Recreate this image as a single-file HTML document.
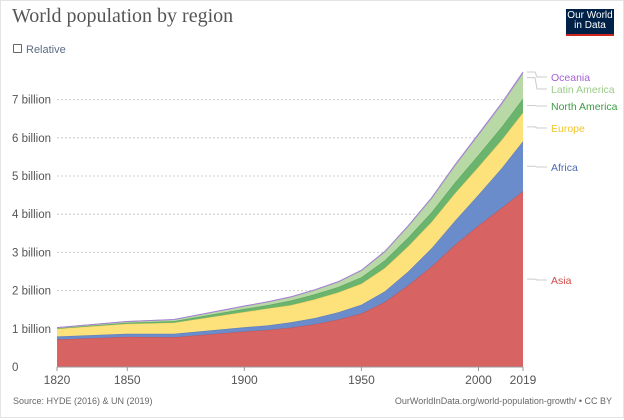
<!DOCTYPE html>
<html><head><meta charset="utf-8">
<style>
html,body{margin:0;padding:0;background:#fff;}
body{width:624px;height:420px;overflow:hidden;position:relative;font-family:"Liberation Sans",sans-serif;}
.frame{position:absolute;left:0;top:0;width:622px;height:416px;border:1px solid #e4e4e4;}
.title{position:absolute;left:12px;top:5px;font-family:"Liberation Serif",serif;font-size:20px;color:#555;}
.logo{position:absolute;left:566px;top:9px;width:48px;height:27px;background:#002147;color:#fff;font-size:10px;line-height:10px;text-align:center;padding-top:2px;box-sizing:border-box;border-bottom:2px solid #ce261e;}
.rel{position:absolute;left:13px;top:44px;font-size:11px;color:#5b6c84;}
.rel span.box{display:inline-block;width:7px;height:7px;border:1px solid #666;border-radius:1px;margin-right:4px;vertical-align:0px;}
.foot{position:absolute;top:396px;font-size:9px;color:#666;}
</style></head><body>
<div class="frame"></div>
<div class="title">World population by region</div>
<div class="logo">Our World<br>in Data</div>
<div class="rel"><span class="box"></span>Relative</div>
<svg id="chart" width="624" height="420" style="position:absolute;left:0;top:0"></svg>
<div class="foot" style="left:13px">Source: HYDE (2016) &amp; UN (2019)</div>
<div class="foot" style="right:12px">OurWorldInData.org/world-population-growth/ • CC BY</div>
<script>
const years=[1820,1850,1870,1900,1910,1920,1930,1940,1950,1960,1970,1980,1990,2000,2010,2019];
const asia=[0.72,0.79,0.78,0.93,0.97,1.03,1.12,1.24,1.40,1.70,2.14,2.63,3.20,3.70,4.17,4.60];
const africa=[0.08,0.08,0.09,0.11,0.12,0.14,0.16,0.19,0.23,0.28,0.36,0.48,0.63,0.81,1.04,1.31];
const europe=[0.20,0.26,0.29,0.40,0.44,0.45,0.49,0.52,0.55,0.61,0.66,0.69,0.72,0.73,0.74,0.75];
const northAmerica=[0.01,0.03,0.04,0.08,0.09,0.12,0.13,0.14,0.17,0.20,0.23,0.25,0.28,0.31,0.34,0.37];
const latinAmerica=[0.02,0.03,0.04,0.07,0.08,0.09,0.11,0.13,0.17,0.22,0.29,0.36,0.44,0.52,0.59,0.65];
const oceania=[0.002,0.002,0.003,0.006,0.008,0.009,0.01,0.011,0.013,0.016,0.02,0.023,0.027,0.031,0.037,0.042];
const yTicks=[0,1,2,3,4,5,6,7];
const yTickLabels=["0","1 billion","2 billion","3 billion","4 billion","5 billion","6 billion","7 billion"];
const xTicks=[1820,1850,1900,1950,2000,2019];
const seriesNames=["Asia","Africa","Europe","North America","Latin America","Oceania"];
const labelY=[280,167,128,106,89,77];

const svg=document.getElementById('chart');
const NS='http://www.w3.org/2000/svg';
const x0=57,x1=523,y0=367,pxPerB=38.2;
const X=v=>x0+(v-1820)/(2019-1820)*(x1-x0);
const Y=v=>y0-v*pxPerB;
function mk(t,a){const e=document.createElementNS(NS,t);for(const k in a)e.setAttribute(k,a[k]);svg.appendChild(e);return e;}

yTicks.forEach((t,i)=>{
  if(t>0){const g=mk('line',{x1:x0,x2:x1,y1:Y(t),y2:Y(t),stroke:'#ccc','stroke-dasharray':'2,2'});
  
  }
  const l=mk('text',{x:12,y:Y(t)+4,'font-size':'11.5',fill:'#555','font-family':'Liberation Sans'});
  l.textContent=yTickLabels[i];
  
  
});

const series=[asia,africa,europe,northAmerica,latinAmerica,oceania];
const fills=['#d76462','#6b8ccb','#fde17a','#6bb46e','#b8d9a6','#b99de0'];
const strokes=['#c55250','#5a7abb','#f0cf60','#5aa35d','#a5c893','#a77fd6'];
const txtCol=['#d44a48','#4a6bb5','#f2c42a','#3e9a44','#9ccb8a','#a461d4'];
let base=years.map(()=>0);
series.forEach((s,si)=>{
  const top=base.map((b,i)=>b+s[i]);
  let d='M'+years.map((yr,i)=>X(yr)+','+Y(top[i])).join('L');
  for(let i=years.length-1;i>=0;i--)d+='L'+X(years[i])+','+Y(base[i]);
  d+='Z';
  const p=mk('path',{d:d,fill:fills[si],stroke:'none'});
  
  
  const ln=mk('polyline',{points:years.map((yr,i)=>X(yr)+','+Y(top[i])).join(' '),fill:'none',stroke:strokes[si],'stroke-width':'1'});
  
  
  const mid=Y(base[base.length-1]+s[s.length-1]/2);
  const ly=labelY[si];
  const c=mk('polyline',{points:`${x1+4},${si>=4?Y(top[top.length-1])+ (si==5?0:4):mid} ${x1+12},${si>=4?Y(top[top.length-1])+(si==5?0:4):mid} ${x1+14},${ly} ${x1+24},${ly}`,fill:'none',stroke:'#ccc'});
  
  
  const t=mk('text',{x:551,y:ly+4,'font-size':'10.5',fill:txtCol[si],'font-family':'Liberation Sans'});
  t.textContent=seriesNames[si];
  
  
  base=top;
});

const ax=mk('line',{x1:x0,x2:x1,y1:y0,y2:y0,stroke:'#999'});


xTicks.forEach(t=>{
  const tk=mk('line',{x1:X(t),x2:X(t),y1:y0,y2:y0+4,stroke:'#999'});
  
  
  const l=mk('text',{x:X(t),y:384,'font-size':'12',fill:'#555','text-anchor':'middle','font-family':'Liberation Sans'});
  l.textContent=t;
  
  
});
</script>
</body></html>
